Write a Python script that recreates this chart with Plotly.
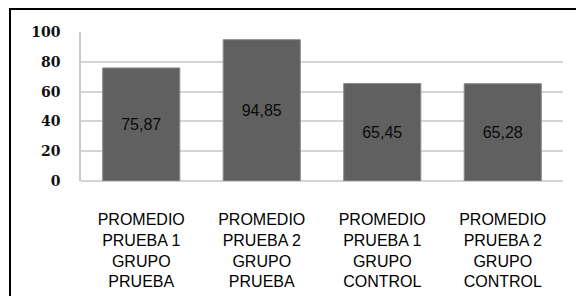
import plotly.graph_objects as go

categories = [
    "PROMEDIO<br>PRUEBA 1<br>GRUPO<br>PRUEBA",
    "PROMEDIO<br>PRUEBA 2<br>GRUPO<br>PRUEBA",
    "PROMEDIO<br>PRUEBA 1<br>GRUPO<br>CONTROL",
    "PROMEDIO<br>PRUEBA 2<br>GRUPO<br>CONTROL",
]
values = [75.87, 94.85, 65.45, 65.28]
y_ticks = [0, 20, 40, 60, 80, 100]

labels = [f"{v:.2f}".replace(".", ",") for v in values]

fig = go.Figure()
fig.add_trace(go.Bar(
    x=categories,
    y=values,
    text=labels,
    textposition="inside",
    insidetextanchor="middle",
    textangle=0,
    textfont=dict(family="Liberation Sans", size=16, color="#0a0a0a"),
    marker=dict(color="#606060", line=dict(color="#8a8a8a", width=1)),
    hoverinfo="skip",
))

fig.update_layout(
    width=576, height=296,
    margin=dict(l=81, r=13, t=32, b=115),
    paper_bgcolor="white",
    plot_bgcolor="white",
    bargap=0.36,
    showlegend=False,
    xaxis=dict(
        automargin=False,
        showgrid=False,
        showline=False,
        ticks="",
        ticklabelstandoff=27,
        tickfont=dict(family="Liberation Sans", size=16, color="#000000"),
    ),
    yaxis=dict(
        automargin=False,
        range=[0, 100],
        tickvals=y_ticks,
        showgrid=True,
        gridcolor="#d4d4d4",
        gridwidth=1.5,
        zeroline=True,
        zerolinecolor="#d4d4d4",
        zerolinewidth=1.5,
        showline=True,
        linecolor="#c8c8c8",
        linewidth=1.5,
        ticks="",
        ticklabelstandoff=16,
        tickfont=dict(family="DejaVu Serif", size=14, color="#111111", weight="bold"),
    ),
    shapes=[dict(
        type="rect", xref="paper", yref="paper",
        x0=-0.1473, x1=1.1, y0=-0.9, y1=1.154,
        line=dict(color="black", width=2),
        fillcolor="rgba(0,0,0,0)",
        layer="above",
    )],
)

fig.write_html(
    "out.html",
    config={"displayModeBar": False},
    post_script="document.body.style.margin='0';document.body.style.padding='0';",
)
